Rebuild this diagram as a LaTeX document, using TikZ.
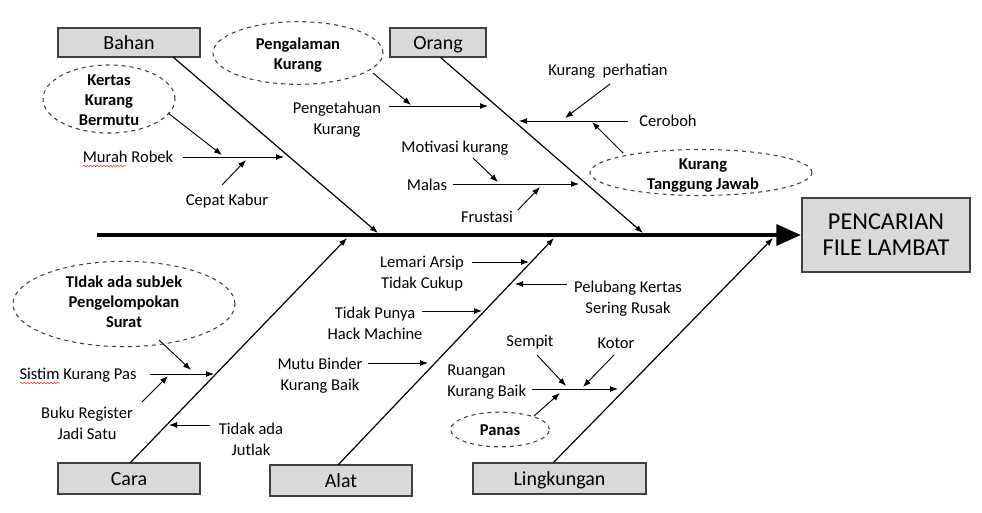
\documentclass[tikz,border=0pt]{standalone}
\usepackage{fontspec}
\setmainfont{Carlito}
\usetikzlibrary{arrows.meta,shapes.geometric,decorations.pathmorphing}
\begin{document}
\begin{tikzpicture}[x=0.75pt,y=-0.75pt,
  lbl/.style={font=\fontsize{12.4}{15.7}\selectfont, align=center, inner sep=0pt},
  elltxt/.style={font=\bfseries\fontsize{12.4}{15}\selectfont, align=center, inner sep=0pt},
  cat/.style={draw=black!75, fill=black!15, line width=1.2pt, inner sep=0pt, font=\fontsize{15}{18}\selectfont, text height=11.4pt, text depth=1.2pt},
  ell/.style={draw=black!75, dashed, line width=0.8pt, ellipse, inner sep=0pt},
  bone/.style={line width=0.9pt, -{Latex[length=6pt,width=4.5pt]}},
  sub/.style={line width=0.7pt, -{Latex[length=6pt,width=4.5pt]}},
  squig/.style={draw=red!80, line width=0.4pt, decorate, decoration={snake, amplitude=0.6pt, segment length=2.5pt}}
]
\useasboundingbox (0,0) rectangle (982,513);

% effect box and spine
\node[draw=black!75, fill=black!15, line width=1.2pt, inner sep=0pt, minimum width=126pt, minimum height=55.5pt, font=\fontsize{18.2}{19.5}\selectfont, align=center] (effect) at (886,235) {PENCARIAN\\FILE LAMBAT};
\coordinate (spineS) at (97,235);
\coordinate (spineE) at (801,235);
\draw[line width=3pt, -{Triangle[length=18.5pt,width=15.5pt]}] (spineS) -- (spineE);

% category boxes
\node[cat, minimum width=106.5pt, minimum height=22pt] (bahan) at (129,42.5) {Bahan};
\node[cat, minimum width=72pt, minimum height=22pt] (orang) at (438,42.5) {Orang};
\node[cat, minimum width=106.5pt, minimum height=23pt] (cara) at (129,478.5) {Cara};
\node[cat, minimum width=106.5pt, minimum height=23pt] (alat) at (341,480.5) {Alat};
\node[cat, minimum width=130pt, minimum height=23pt] (ling) at (559.5,478.5) {Lingkungan};

% main bones
\coordinate (bahanS) at (173,57);   \coordinate (bahanE) at (378,233);
\coordinate (orangS) at (440,57);   \coordinate (orangE) at (643,233);
\coordinate (caraS) at (130,463);   \coordinate (caraE) at (347,238);
\coordinate (alatS) at (338,465);   \coordinate (alatE) at (554,238);
\coordinate (lingS) at (553,463);   \coordinate (lingE) at (773,238);
\draw[bone] (bahanS) -- (bahanE);
\draw[bone] (orangS) -- (orangE);
\draw[bone] (caraS) -- (caraE);
\draw[bone] (alatS) -- (alatE);
\draw[bone] (lingS) -- (lingE);

% ---- Bahan ----
\node[lbl] (murah) at (128,157) {Murah Robek};
\coordinate (murahS) at (183,157); \coordinate (murahE) at (284,157);
\draw[sub] (murahS) -- (murahE);
\draw[squig] (83,166) -- (126,166);
\node[ell, minimum width=99pt, minimum height=51pt] (kertas) at (109,99) {};
\node[elltxt] (kertasT) at (109,100.5) {Kertas\\Kurang\\Bermutu};
\coordinate (kertasA) at (168,113); \coordinate (kertasB) at (222,155);
\draw[sub] (kertasA) -- (kertasB);
\node[lbl] (cepat) at (227,201) {Cepat Kabur};
\coordinate (cepatA) at (222,185); \coordinate (cepatB) at (246,160);
\draw[sub] (cepatA) -- (cepatB);

% ---- Orang ----
\node[ell, minimum width=127.5pt, minimum height=47pt] (pengal) at (298,53) {};
\node[elltxt] (pengalT) at (298,55) {Pengalaman\\Kurang};
\coordinate (pengalA) at (373,73); \coordinate (pengalB) at (411,105);
\draw[sub] (pengalA) -- (pengalB);
\node[lbl] (penget) at (337,120) {Pengetahuan\\Kurang};
\coordinate (pengetS) at (389,106); \coordinate (pengetE) at (488,106);
\draw[sub] (pengetS) -- (pengetE);

\node[lbl] (perhat) at (608,71) {Kurang\ \ perhatian};
\coordinate (perhatA) at (610,84); \coordinate (perhatB) at (565,118);
\draw[sub] (perhatA) -- (perhatB);
\node[lbl] (ceroboh) at (668,121) {Ceroboh};
\coordinate (cerobohS) at (628,121); \coordinate (cerobohE) at (519,121);
\draw[sub] (cerobohS) -- (cerobohE);
\node[ell, minimum width=166.5pt, minimum height=34.5pt] (tanggung) at (701,172.5) {};
\node[elltxt] (tanggungT) at (703,175.5) {Kurang\\Tanggung Jawab};
\coordinate (tanggungA) at (623,153); \coordinate (tanggungB) at (592,122);
\draw[sub] (tanggungA) -- (tanggungB);

\node[lbl] (motiv) at (455,148) {Motivasi kurang};
\coordinate (motivA) at (473,158); \coordinate (motivB) at (498,182);
\draw[sub] (motivA) -- (motivB);
\node[lbl] (malas) at (427,185) {Malas};
\coordinate (malasS) at (453,184); \coordinate (malasE) at (579,184);
\draw[sub] (malasS) -- (malasE);
\node[lbl] (frust) at (487,217) {Frustasi};
\coordinate (frustA) at (518,210); \coordinate (frustB) at (540,187);
\draw[sub] (frustA) -- (frustB);

% ---- Cara ----
\node[ell, minimum width=166.5pt, minimum height=64pt] (subjek) at (124,304) {};
\node[elltxt] (subjekT) at (124,302) {TIdak ada subJek\\Pengelompokan\\Surat};
\coordinate (subjekA) at (159,340); \coordinate (subjekB) at (191,370);
\draw[sub] (subjekA) -- (subjekB);
\node[lbl] (sistim) at (78,375) {Sistim Kurang Pas};
\draw[squig] (20,383) -- (60,383);
\coordinate (sistimS) at (150,374); \coordinate (sistimE) at (214,374);
\draw[sub] (sistimS) -- (sistimE);
\node[lbl] (buku) at (87,423.5) {Buku Register\\Jadi Satu};
\coordinate (bukuA) at (142,402); \coordinate (bukuB) at (168,376);
\draw[sub] (bukuA) -- (bukuB);
\node[lbl] (jutlak) at (251,439.5) {Tidak ada\\Jutlak};
\coordinate (jutlakS) at (210,425); \coordinate (jutlakE) at (169,425);
\draw[sub] (jutlakS) -- (jutlakE);

% ---- Alat ----
\node[lbl] (lemari) at (422,273.5) {Lemari Arsip\\Tidak Cukup};
\coordinate (lemariS) at (472,262); \coordinate (lemariE) at (529,262);
\draw[sub] (lemariS) -- (lemariE);
\node[lbl] (pelub) at (628,298.5) {Pelubang Kertas\\Sering Rusak};
\coordinate (pelubS) at (567,284); \coordinate (pelubE) at (515,284);
\draw[sub] (pelubS) -- (pelubE);
\node[lbl] (hack) at (375,323.5) {Tidak Punya\\Hack Machine};
\coordinate (hackS) at (422,311); \coordinate (hackE) at (482,311);
\draw[sub] (hackS) -- (hackE);
\node[lbl] (binder) at (320,375.5) {Mutu Binder\\Kurang Baik};
\coordinate (binderS) at (368,363); \coordinate (binderE) at (428,363);
\draw[sub] (binderS) -- (binderE);

% ---- Lingkungan ----
\node[lbl, align=left, anchor=west] (ruang) at (447,382.5) {Ruangan\\Kurang Baik};
\coordinate (ruangS) at (532,389); \coordinate (ruangE) at (618,389);
\draw[sub] (ruangS) -- (ruangE);
\node[lbl] (sempit) at (530,342) {Sempit};
\coordinate (sempitA) at (537,355); \coordinate (sempitB) at (566,386);
\draw[sub] (sempitA) -- (sempitB);
\node[lbl] (kotor) at (616,343) {Kotor};
\coordinate (kotorA) at (614,355); \coordinate (kotorB) at (583,387);
\draw[sub] (kotorA) -- (kotorB);
\node[ell, minimum width=74pt, minimum height=26pt] (panas) at (500,429.5) {};
\node[elltxt] (panasT) at (500,430) {Panas};
\coordinate (panasA) at (534,416); \coordinate (panasB) at (560,393);
\draw[sub] (panasA) -- (panasB);
\end{tikzpicture}
\end{document}
